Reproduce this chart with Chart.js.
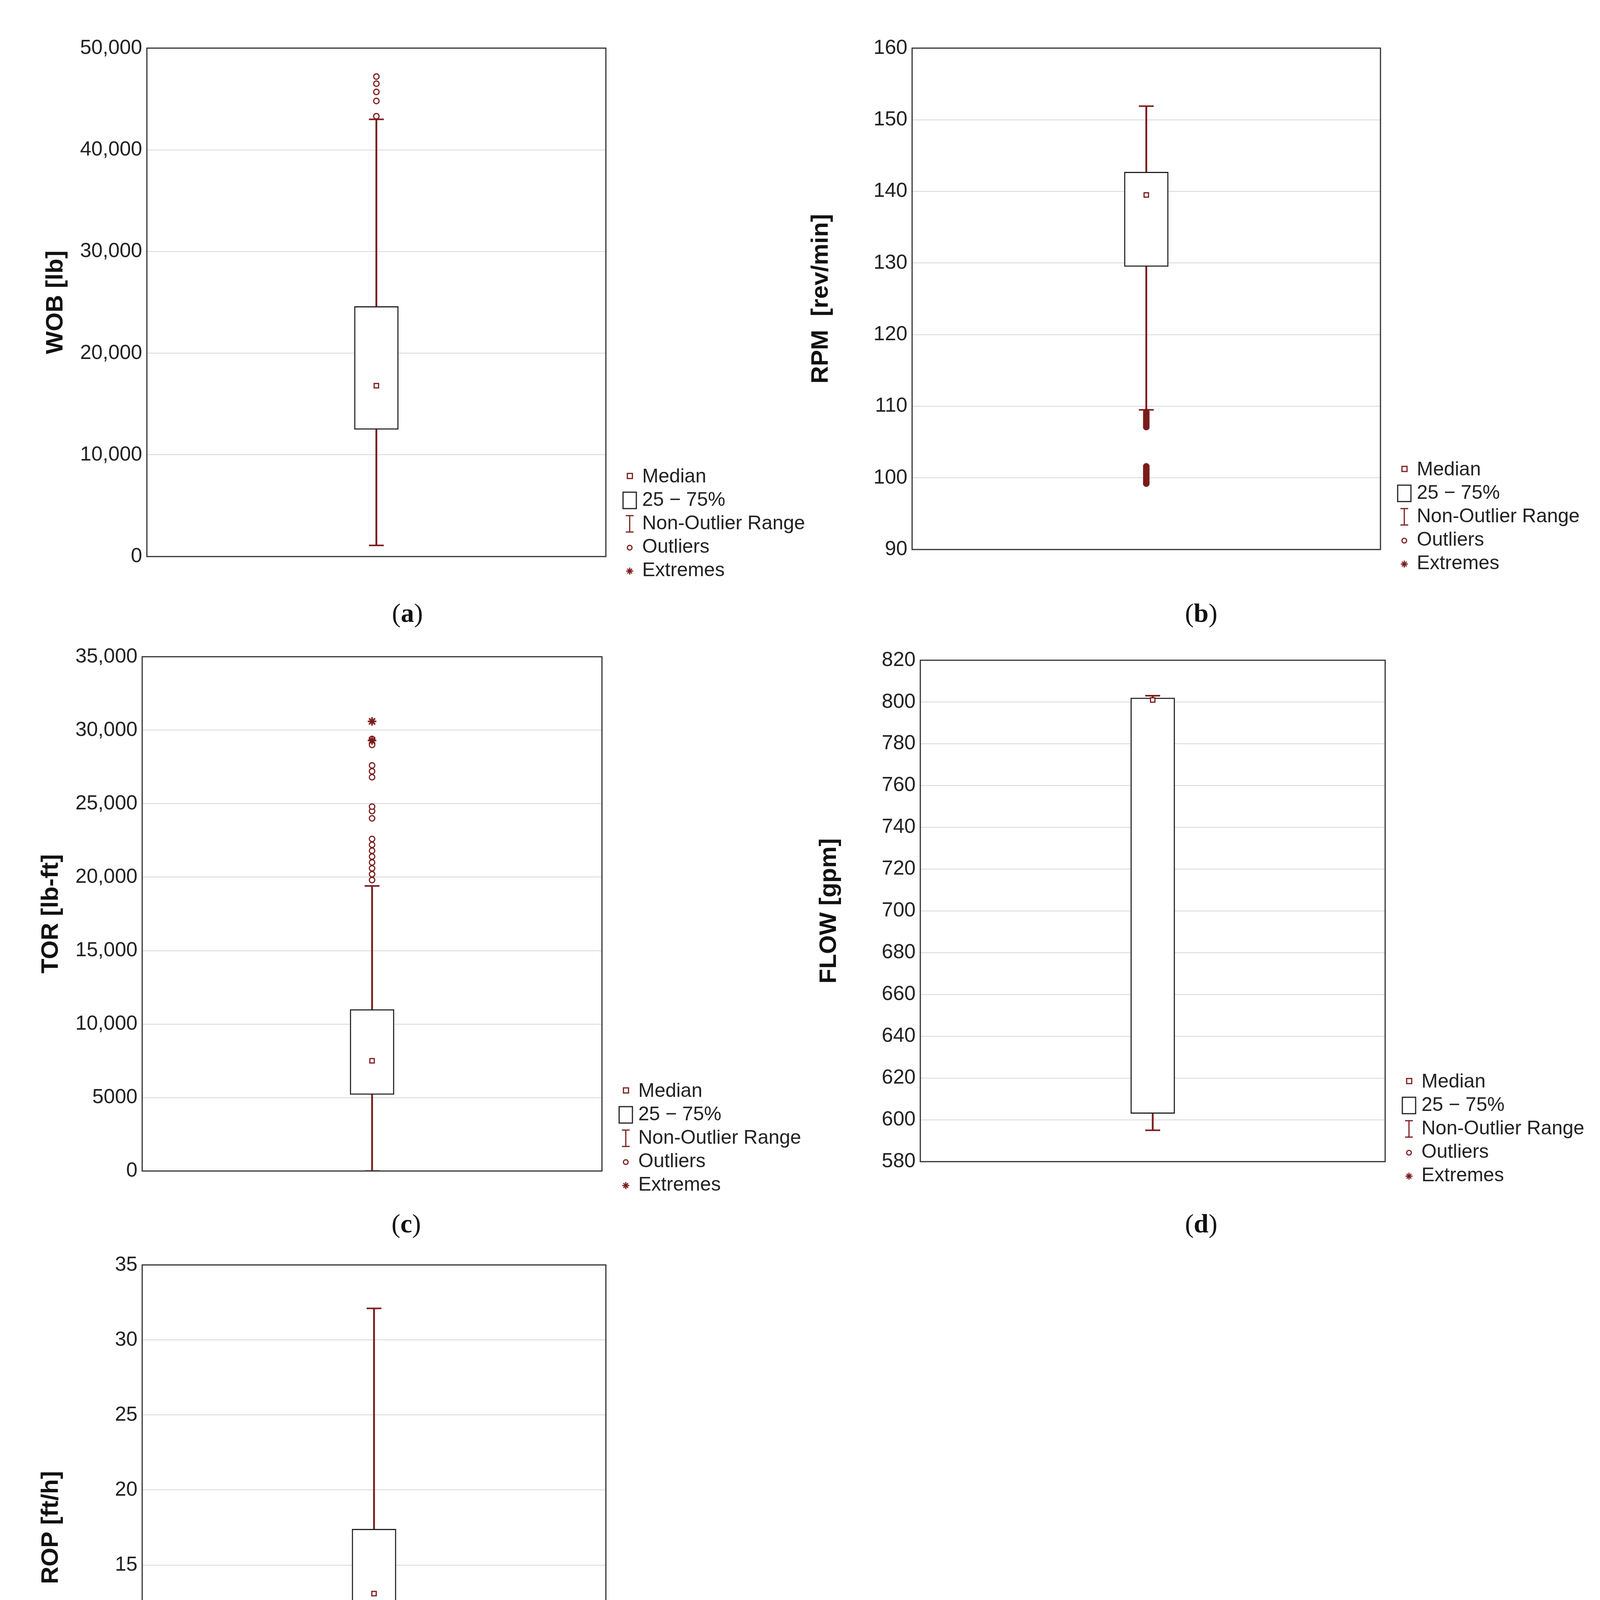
<!DOCTYPE html>
<html><head><meta charset="utf-8">
<script src="https://cdn.jsdelivr.net/npm/chart.js@4"></script>
<style>
body{margin:0;background:#fff;width:4133px;height:4770px;position:relative;overflow:hidden;font-family:"Liberation Sans",Arial,sans-serif}
canvas{position:absolute}
.leg{position:absolute;font-size:50px;color:#222;line-height:60px}
.leg div{position:relative;padding-left:52px;white-space:nowrap}
.sym{position:absolute;left:0;top:0;width:40px;height:60px}
.cap{position:absolute;font-family:"Liberation Serif",serif;font-size:68px;transform:translateX(-50%);color:#111}
</style></head><body>
<script>
const panels = ['a','b','c','d','e'];
const yTitles = ['WOB [lb]','RPM  [rev/min]','TOR [lb-ft]','FLOW [gpm]','ROP [ft/h]'];
const yMin = [0,90,0,580,0];
const yMax = [50000,160,35000,820,35];
const yStep = [10000,10,5000,20,5];
const q1 = [12500,129.5,5200,603,7.4];
const q3 = [24600,142.7,11000,802,17.4];
const medians = [16800,139.5,7500,801,13.1];
const whiskLo = [1100,109.5,0,595,1.3];
const whiskHi = [43000,151.9,19400,803,32.1];
const outliers = [
  [43300,44800,45700,46500,47200],
  [107.1,107.4,107.7,108,108.3,108.6,108.9,109.2,99.2,99.5,99.8,100.1,100.4,100.7,101,101.3,101.6],
  [19800,20200,20600,21000,21400,21800,22200,22600,24000,24500,24800,26800,27200,27600,29000,29400],
  [],[]
];
const extremes = [[],[],[30600,29300],[],[]];
const areas = [[376,110,1564,1438],[2335,110,3547,1420],[364,1668,1554,3011],[2356,1677,3559,2987],[364,3225,1564,4596]];
const AXW = 270, PAD = 30;
const red = '#7b1c1c';
const frame = {id:'frame',afterDraw(c){const a=c.chartArea,x=c.ctx;x.save();x.strokeStyle='#333';x.lineWidth=3;x.strokeRect(a.left,a.top,a.right-a.left,a.bottom-a.top);x.restore();}};
function star(){const c=document.createElement('canvas');c.width=c.height=30;const x=c.getContext('2d');x.strokeStyle=red;x.lineWidth=4;x.translate(15,15);for(let i=0;i<4;i++){x.beginPath();x.moveTo(-11,0);x.lineTo(11,0);x.stroke();x.rotate(Math.PI/4);}return c;}
const starImg = star();
panels.forEach((p,i)=>{
  const [L,T,R,B]=areas[i];
  const cv=document.createElement('canvas');
  const w=R-L+AXW+10, h=B-T+2*PAD;
  cv.width=w;cv.height=h;cv.style.left=(L-AXW)+'px';cv.style.top=(T-PAD)+'px';cv.style.width=w+'px';cv.style.height=h+'px';
  document.body.appendChild(cv);
  const lab=['v'];
  const fill = i===1 ? red : '#fff';
  new Chart(cv,{
    type:'bar',
    data:{labels:lab,datasets:[
      {type:'bar',data:[[whiskLo[i],whiskHi[i]]],backgroundColor:red,borderWidth:0,barThickness:4,grouped:false,order:5},
      {type:'bar',data:[[q1[i],q3[i]]],backgroundColor:'#fff',borderColor:'#222',borderWidth:3,borderSkipped:false,barThickness:113,grouped:false,order:4},
      {type:'line',data:[{x:'v',y:whiskLo[i]},{x:'v',y:whiskHi[i]}],showLine:false,pointStyle:'line',pointRadius:19,borderColor:red,borderWidth:4,order:3},
      {type:'line',data:[{x:'v',y:medians[i]}],showLine:false,pointStyle:'rect',pointRadius:8,borderColor:red,backgroundColor:'#fff',borderWidth:3,order:2},
      {type:'line',data:outliers[i].map(v=>({x:'v',y:v})),showLine:false,pointStyle:'circle',pointRadius:7,borderColor:red,backgroundColor:fill,borderWidth:3,order:1},
      {type:'line',data:extremes[i].map(v=>({x:'v',y:v})),showLine:false,pointStyle:starImg,order:0}
    ]},
    options:{responsive:false,animation:false,devicePixelRatio:1,
      layout:{padding:{top:PAD,bottom:PAD,right:10,left:0}},
      plugins:{legend:{display:false},tooltip:{enabled:false}},
      scales:{
        x:{display:false,offset:true},
        y:{min:yMin[i],max:yMax[i],ticks:{stepSize:yStep[i],color:'#222',font:{size:52,family:'Liberation Sans'},padding:12,
            callback:v=> (i===2 && v<10000)? String(v) : v.toLocaleString('en-US')},
          grid:{color:'#d8d8d8',lineWidth:2,drawTicks:false},border:{display:false},
          title:{display:true,text:yTitles[i],color:'#111',padding:{top:0,bottom:8},font:{size:62,weight:'bold',family:'Liberation Sans'}},
          afterFit(s){s.width=AXW;}}
      }},
    plugins:[frame]
  });
  const lg=document.createElement('div');lg.className='leg';lg.style.left=(R+28)+'px';lg.style.top=(B-250)+'px';
  lg.innerHTML=
   '<div><svg class="sym" viewBox="0 0 40 60"><rect x="14" y="24" width="13" height="13" fill="#fff" stroke="'+red+'" stroke-width="3"/></svg>Median</div>'+
   '<div><svg class="sym" viewBox="0 0 40 60"><rect x="3" y="12" width="34" height="42" fill="#fff" stroke="#222" stroke-width="3"/></svg>25 − 75%</div>'+
   '<div><svg class="sym" viewBox="0 0 40 60"><path d="M10 12H30M20 12V54M10 54H30" stroke="'+red+'" stroke-width="3" fill="none"/></svg>Non-Outlier Range</div>'+
   '<div><svg class="sym" viewBox="0 0 40 60"><circle cx="20" cy="34" r="6" fill="#fff" stroke="'+red+'" stroke-width="3"/></svg>Outliers</div>'+
   '<div><svg class="sym" viewBox="0 0 40 60"><path d="M11 34H29M20 25V43M14 28L26 40M26 28L14 40" stroke="'+red+'" stroke-width="3"/></svg>Extremes</div>';
  document.body.appendChild(lg);
});
const caps=[[1043,1530],[3075,1530],[1040,3093],[3075,3093],[1043,4681]];
caps.forEach((c,i)=>{const d=document.createElement('div');d.className='cap';d.style.left=c[0]+'px';d.style.top=c[1]+'px';d.innerHTML='(<b>'+panels[i]+'</b>)';document.body.appendChild(d);});
</script>
</body></html>
